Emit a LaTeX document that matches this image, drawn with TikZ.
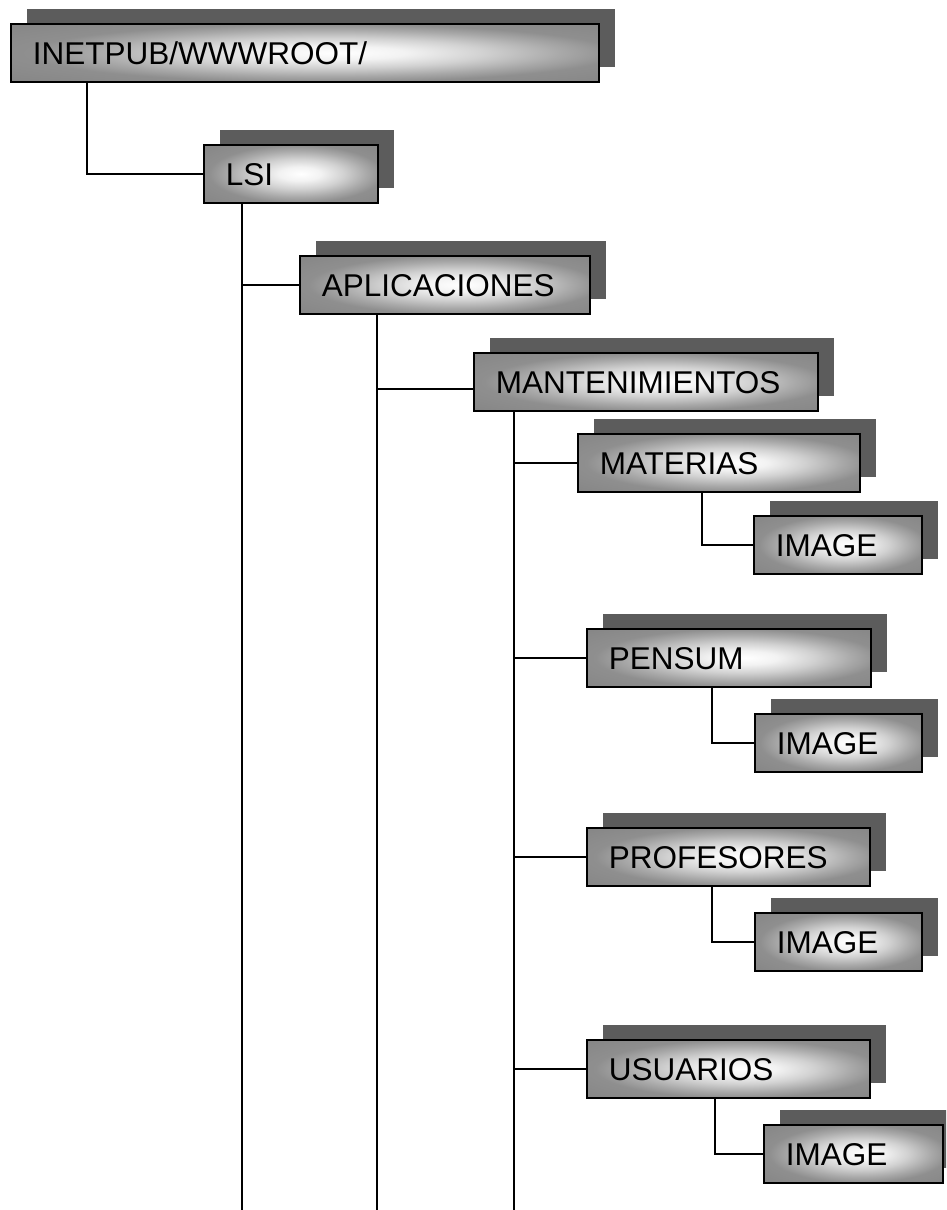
\documentclass[tikz,border=0pt]{standalone}
\usepackage{fontspec}
\setmainfont{Liberation Sans}
\usetikzlibrary{shadows}
\pgfdeclareradialshading{boxglow}{\pgfpoint{3bp}{0bp}}{color(0bp)=(white); color(6bp)=(black!5); color(13bp)=(black!18); color(20bp)=(black!34); color(25bp)=(black!44); color(50bp)=(black!52)}
\tikzset{
  fbox/.style={draw=black, line width=1.6pt, shading=boxglow, anchor=north west,
    minimum height=58pt, inner xsep=22pt, inner ysep=0pt, align=left,
    text height=22.5pt, text depth=0pt,
    font=\fontsize{31.5}{36}\selectfont,
    drop shadow={shadow xshift=16pt, shadow yshift=15pt, opacity=1, fill=black!64, draw=none}},
  link/.style={draw=black, line width=1.5pt}
}
\begin{document}
\begin{tikzpicture}[x=1pt,y=-1pt]
\useasboundingbox[fill=white] (0,0) rectangle (946,1210);
\begin{scope}
\clip (0,0) rectangle (946,1210);
\node[fbox, minimum width=588pt, text width=544pt] (inet) at (10,23) {INETPUB/WWWROOT/};
\node[fbox, minimum width=174pt, text width=130pt] (lsi) at (203,144) {LSI};
\node[fbox, minimum width=290pt, text width=246pt] (apl) at (299,255) {APLICACIONES};
\node[fbox, minimum width=344pt, text width=300pt] (mant) at (473,352) {MANTENIMIENTOS};
\node[fbox, minimum width=282pt, text width=238pt] (mat) at (577,433) {MATERIAS};
\node[fbox, minimum width=168pt, text width=124pt] (img1) at (753,515) {IMAGE};
\node[fbox, minimum width=284pt, text width=240pt] (pen) at (586,628) {PENSUM};
\node[fbox, minimum width=167pt, text width=123pt] (img2) at (754,713) {IMAGE};
\node[fbox, minimum width=283pt, text width=239pt] (prof) at (586,827) {PROFESORES};
\node[fbox, minimum width=167pt, text width=123pt] (img3) at (754,912) {IMAGE};
\node[fbox, minimum width=283pt, text width=239pt] (usu) at (586,1039) {USUARIOS};
\node[fbox, minimum width=179pt, text width=135pt] (img4) at (763,1124) {IMAGE};

\coordinate (lsiend) at (242,1214);
\coordinate (aplend) at (377,1214);
\coordinate (mantend) at (514,1214);

\draw[link] ([xshift=77pt]inet.south west) |- (lsi.west);
\draw[link] (lsi.south -| lsiend) -- (lsiend);
\draw[link] (apl.west) -- (apl.west -| lsiend);
\draw[link] (apl.south -| aplend) -- (aplend);
\draw[link] ([yshift=-7pt]mant.west) -- ([yshift=-7pt]mant.west -| aplend);
\draw[link] (mant.south -| mantend) -- (mantend);
\draw[link] (mat.west) -- (mat.west -| mantend);
\draw[link] (pen.west) -- (pen.west -| mantend);
\draw[link] (prof.west) -- (prof.west -| mantend);
\draw[link] (usu.west) -- (usu.west -| mantend);
\draw[link] ([xshift=125pt]mat.south west) |- (img1.west);
\draw[link] ([xshift=126pt]pen.south west) |- (img2.west);
\draw[link] ([xshift=126pt]prof.south west) |- (img3.west);
\draw[link] ([xshift=129pt]usu.south west) |- (img4.west);
\end{scope}
\end{tikzpicture}
\end{document}
